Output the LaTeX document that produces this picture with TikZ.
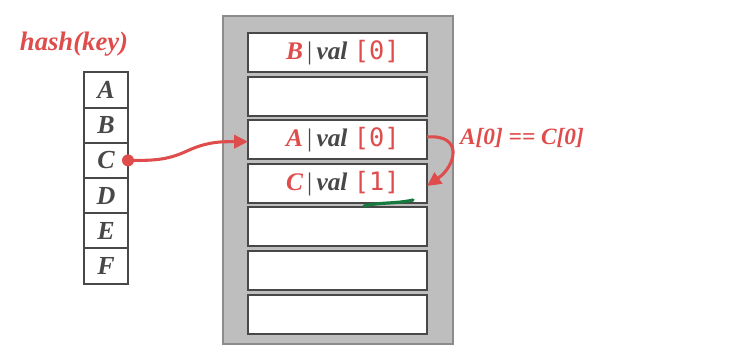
\documentclass[tikz,border=0pt]{standalone}
\usepackage{fontspec}
\setmainfont{Liberation Serif}
\setmonofont{DejaVu Sans Mono}
\usetikzlibrary{arrows.meta,positioning}

\definecolor{keyred}{RGB}{222,76,76}
\definecolor{inkgray}{RGB}{72,72,72}
\definecolor{boxgray}{RGB}{190,190,190}
\definecolor{rimgray}{RGB}{140,140,140}
\definecolor{markgreen}{RGB}{22,122,62}

\newcommand{\entry}[2]{\hspace*{8pt}{\color{keyred}#1}{\color{inkgray}\,{\upshape\mdseries|}\,val}~{\color{keyred}\ttfamily\mdseries\upshape[#2]}}

\tikzset{
  keycell/.style={draw=inkgray,line width=1.5pt,fill=white,minimum width=33pt,minimum height=26.4pt,
    inner sep=0pt,outer sep=0pt,text=inkgray,font=\fontsize{19.5}{19.5}\selectfont\bfseries\itshape},
  slot/.style={draw=inkgray,line width=1.5pt,fill=white,minimum width=134.25pt,minimum height=29.25pt,
    inner sep=0pt,outer sep=0pt,font=\fontsize{19}{19}\selectfont\bfseries\itshape},
  bucket/.style={draw=rimgray,line width=1.2pt,fill=boxgray,minimum width=172.5pt,minimum height=246pt},
  hashline/.style={keyred,line width=2.3pt},
  redlabel/.style={text=keyred,font=\fontsize{20}{20}\selectfont\bfseries\itshape}
}

\begin{document}
\begin{tikzpicture}[x=0.75pt,y=-0.75pt,>={Triangle[length=10.5pt,width=10pt]}]
    \useasboundingbox (0,0) rectangle (754,355);

    \node[bucket] (bucket) at (338,180) {};

    % hash table slots
    \node[slot] (sB) at (337.5,52.5) {\entry{B}{0}};
    \node[slot] (s2) [below=3.45pt of sB] {};
    \node[slot] (sA) [below=3.45pt of s2] {\entry{A}{0}};
    \node[slot] (sC) [below=3.45pt of sA] {\entry{C}{1}};
    \node[slot] (s5) [below=3.45pt of sC] {};
    \node[slot] (s6) [below=3.45pt of s5] {};
    \node[slot] (s7) [below=3.45pt of s6] {};

    % keys
    \node[redlabel] (hash) at (74,44) {hash(key)};
    \node[keycell] (kA) at (106,90) {A};
    \node[keycell] (kB) [below=0pt of kA] {B};
    \node[keycell] (kC) [below=0pt of kB] {C};
    \node[keycell] (kD) [below=0pt of kC] {D};
    \node[keycell] (kE) [below=0pt of kD] {E};
    \node[keycell] (kF) [below=0pt of kE] {F};

    \node[redlabel,font=\fontsize{17.5}{17.5}\selectfont\bfseries\itshape] (same) at (522,138) {A[0] == C[0]};

    \coordinate (bend) at (187,151);
    \fill[keyred] (kC.east) circle (4.5pt);
    \draw[->,hashline] (kC.east) to[out=0,in=205] (bend) to[out=25,in=180] ([yshift=-1.5pt]sA.west);
    \draw[->,hashline] ([yshift=2pt]sA.east) to[out=5,in=35,looseness=1.9] ([yshift=-2pt]sC.east);

    \draw[markgreen,line width=2.4pt,line cap=round] (364,206) .. controls (380,202) and (396,204) .. (413,200);
\end{tikzpicture}
\end{document}
